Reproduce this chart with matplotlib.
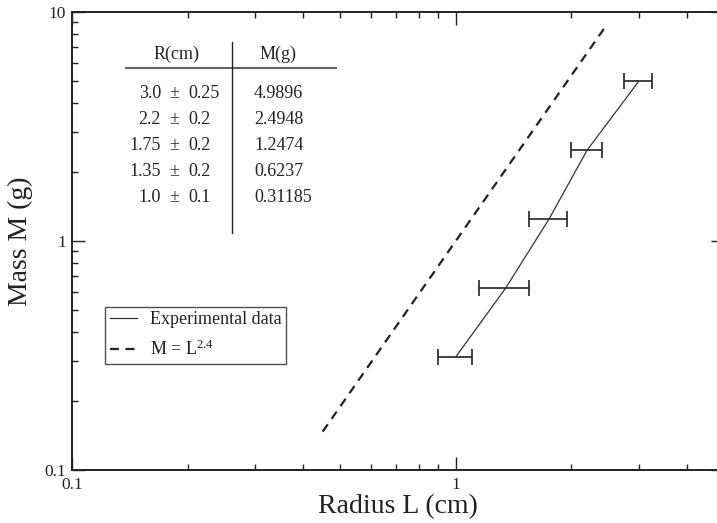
import matplotlib
matplotlib.use("Agg")
import matplotlib.pyplot as plt
import numpy as np
from matplotlib.ticker import NullFormatter, LogLocator, FixedLocator, FixedFormatter

plt.rcParams['font.family'] = ['Liberation Serif', 'DejaVu Serif']
plt.rcParams['mathtext.fontset'] = 'custom'
plt.rcParams['mathtext.rm'] = 'Liberation Serif'
plt.rcParams['mathtext.default'] = 'regular'

# ---- data ----
radius = [1.0, 1.35, 1.75, 2.2, 3.0]
radius_err = [0.1, 0.2, 0.2, 0.2, 0.25]
mass = [0.31185, 0.6237, 1.2474, 2.4948, 4.9896]
radius_str = ['1.0', '1.35', '1.75', '2.2', '3.0']
radius_err_str = ['0.1', '0.2', '0.2', '0.2', '0.25']
mass_str = ['0.31185', '0.6237', '1.2474', '2.4948', '4.9896']
power_exponent = 2.4
power_L_range = [0.45, 2.45]
xtick_vals = [0.1, 1]
xtick_labels = ['0.1', '1']
ytick_vals = [0.1, 1, 10]
ytick_labels = ['0.1', '1', '10']
table_headers = ['R(cm)', 'M(g)']
legend_labels = ['Experimental data', 'M = L$^{2.4}$']
xlabel = 'Radius L (cm)'
ylabel = 'Mass M (g)'

fig = plt.figure(figsize=(7.17, 5.23), dpi=100)
ax = fig.add_axes([72/717, 1-470/523, (724-72)/717, (470-12)/523])
ax.set_xscale('log')
ax.set_yscale('log')
ax.set_xlim(0.1, 5.0)
ax.set_ylim(0.1, 10)

col = '#222222'
# experimental data
line_exp, = ax.plot(radius, mass, '-', color='#333333', lw=0.9)
ax.errorbar(radius, mass, xerr=radius_err, fmt='none', ecolor='#333333',
            elinewidth=1.3, capsize=5.5, capthick=1.3)

# power law
Ls = np.array(power_L_range)
line_pow, = ax.plot(Ls, Ls**power_exponent, color='#222222', lw=1.6,
                    dashes=(4, 3))

# legend
leg = ax.legend([line_exp, line_pow], legend_labels, loc='upper left',
                bbox_to_anchor=(0.0506, 0.356), borderaxespad=0,
                fontsize=13, frameon=True, fancybox=False, edgecolor='#222222',
                handlelength=1.5, handletextpad=0.75, labelspacing=0.62,
                borderpad=0.25)
leg.get_frame().set_linewidth(1.0)
for t in leg.get_texts():
    t.set_color(col)

# ticks
for axis_, vals, labs in ((ax.xaxis, xtick_vals, xtick_labels),
                          (ax.yaxis, ytick_vals, ytick_labels)):
    axis_.set_major_locator(FixedLocator(vals))
    axis_.set_major_formatter(FixedFormatter(labs))
    axis_.set_minor_locator(LogLocator(base=10, subs=np.arange(2, 10)))
    axis_.set_minor_formatter(NullFormatter())

ax.tick_params(which='both', direction='in', top=True, right=True,
               colors='#222222', labelsize=12.5, width=1.0)
ax.tick_params(which='major', length=9.3)
ax.tick_params(which='minor', length=4.3)
ax.tick_params(axis='x', which='major', pad=5)
ax.tick_params(axis='y', which='major', pad=4.5)
for s in ax.spines.values():
    s.set_linewidth(1.4)
    s.set_color('#222222')

ax.set_xlabel(xlabel, fontsize=20, color=col, labelpad=1)
ax.set_ylabel(ylabel, fontsize=20, color=col, labelpad=8)

# table
fx = lambda px: (px - 72) / 652
fy = lambda py: (470 - py) / 458
tk = dict(transform=ax.transAxes, fontsize=13, color=col, va='baseline')
ax.text(fx(177), fy(59), table_headers[0], ha='center', **tk)
ax.text(fx(278), fy(59), table_headers[1], ha='center', **tk)
ax.plot([fx(126), fx(336)], [fy(67.7), fy(67.7)], transform=ax.transAxes,
        color='#666666', lw=1.5, clip_on=False)
ax.plot([fx(232), fx(232)], [fy(42), fy(233)], transform=ax.transAxes,
        color='#222222', lw=1.0, clip_on=False)
row_idx = list(range(len(radius)))[::-1]
for k, i in enumerate(row_idx):
    yb = fy(98.3 + k * 25.85)
    ax.text(fx(161), yb, radius_str[i], ha='right', **tk)
    ax.text(fx(174), yb, '\u00b1', ha='center', **tk)
    ax.text(fx(188), yb, radius_err_str[i], ha='left', **tk)
    ax.text(fx(254), yb, mass_str[i], ha='left', **tk)

fig.savefig('out.png', dpi=100)
